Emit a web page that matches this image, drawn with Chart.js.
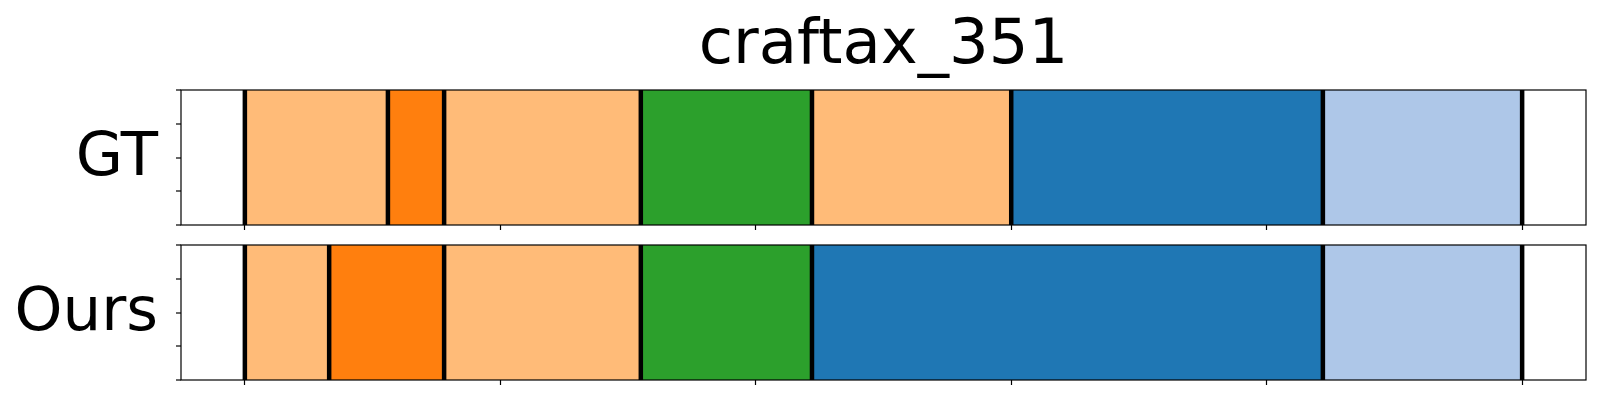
<!DOCTYPE html>
<html>
<head>
<meta charset="utf-8">
<script src="https://cdn.jsdelivr.net/npm/chart.js@4.4.1/dist/chart.umd.min.js"></script>
<style>
    html, body { margin: 0; padding: 0; background: #fff; }
    #wrap { position: relative; width: 1600px; height: 400px; }
    canvas { position: absolute; left: 0; }
</style>
</head>
<body>
<div id="wrap">
    <canvas id="gtChart" width="1600" height="235" style="top:0"></canvas>
    <canvas id="oursChart" width="1600" height="165" style="top:235px"></canvas>
</div>
<script>
// Segment boundaries (frame index) and class id per segment (tab20 index)
const chartTitle = 'craftax_351';
const rowLabels = ['GT', 'Ours'];
const gtBounds = [0, 56, 78, 155, 222, 300, 422, 500];
const gtClasses = [3, 2, 3, 4, 3, 0, 1];
const oursBounds = [0, 33, 78, 155, 222, 422, 500];
const oursClasses = [3, 2, 3, 4, 0, 1];
const xTicks = [0, 100, 200, 300, 400, 500];
const yTicks = [0, 0.25, 0.5, 0.75, 1];

// tab20 palette (first entries)
const tab20 = ['#1f77b4', '#aec7e8', '#ff7f0e', '#ffbb78', '#2ca02c', '#98df8a'];
const FONT = '"DejaVu Sans", sans-serif';

function makeChart(canvasId, label, bounds, classes, layout) {
    const segments = classes.map((c, i) => ({ x: [bounds[i], bounds[i + 1]], y: label }));

    const overlay = {
        id: 'overlay',
        afterDatasetsDraw(chart) {
            const { ctx, chartArea, scales } = chart;
            ctx.save();
            // boundary lines
            ctx.strokeStyle = '#000';
            ctx.lineWidth = 4.5;
            bounds.forEach(b => {
                const px = scales.x.getPixelForValue(b);
                ctx.beginPath();
                ctx.moveTo(px, chartArea.top);
                ctx.lineTo(px, chartArea.bottom);
                ctx.stroke();
            });
            // axes frame
            ctx.lineWidth = 1.2;
            ctx.strokeRect(chartArea.left, chartArea.top,
                chartArea.right - chartArea.left, chartArea.bottom - chartArea.top);
            // left tick marks
            ctx.lineWidth = 1.2;
            yTicks.forEach(v => {
                const py = Math.round(chartArea.bottom - v * (chartArea.bottom - chartArea.top)) ;
                ctx.beginPath();
                ctx.moveTo(chartArea.left - 5, py);
                ctx.lineTo(chartArea.left, py);
                ctx.stroke();
            });
            // row label (horizontal ylabel)
            ctx.fillStyle = '#000';
            ctx.font = '61px ' + FONT;
            ctx.textAlign = 'right';
            ctx.textBaseline = 'alphabetic';
            const mid = (chartArea.top + chartArea.bottom) / 2;
            ctx.fillText(label, chartArea.left - 23, mid + 17);
            if (layout.title) {
                ctx.font = '62.5px ' + FONT;
                ctx.textAlign = 'center';
                ctx.fillText(layout.title, (chartArea.left + chartArea.right) / 2, 63);
            }
            ctx.restore();
        }
    };

    return new Chart(document.getElementById(canvasId), {
        type: 'bar',
        data: {
            labels: [label],
            datasets: [{
                data: segments,
                backgroundColor: classes.map(c => tab20[c]),
                borderWidth: 0,
                barPercentage: 1,
                categoryPercentage: 1
            }]
        },
        options: {
            indexAxis: 'y',
            responsive: false,
            animation: false,
            layout: { padding: { top: layout.top, right: 14, left: 181, bottom: 0 } },
            plugins: { legend: { display: false }, tooltip: { enabled: false } },
            scales: {
                x: {
                    type: 'linear',
                    min: -25,
                    max: 525,
                    afterBuildTicks: s => { s.ticks = xTicks.map(v => ({ value: v })); },
                    afterFit: s => { s.height = layout.xh; },
                    ticks: { display: false },
                    grid: { drawOnChartArea: false, drawTicks: true, tickLength: 5, tickColor: '#000', tickWidth: 1.2 },
                    border: { display: false }
                },
                y: {
                    type: 'category',
                    display: false
                }
            }
        },
        plugins: [overlay]
    });
}

makeChart('gtChart', rowLabels[0], gtBounds, gtClasses, { top: 90, xh: 10, title: chartTitle });
makeChart('oursChart', rowLabels[1], oursBounds, oursClasses, { top: 10, xh: 20 });
</script>
</body>
</html>
